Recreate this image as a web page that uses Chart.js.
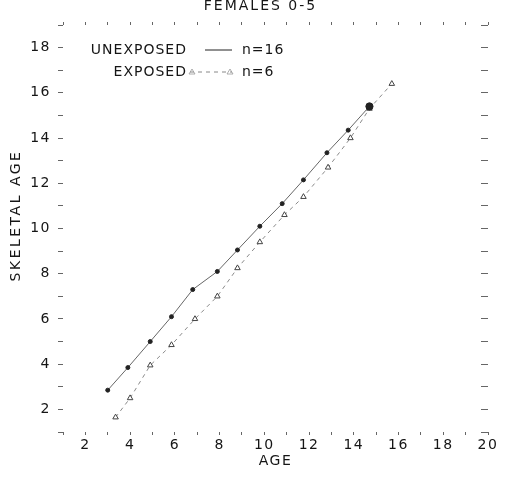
<!DOCTYPE html>
<html>
<head>
<meta charset="utf-8">
<script src="https://cdn.jsdelivr.net/npm/chart.js@4.4.1/dist/chart.umd.min.js"></script>
<style>
  html, body { margin: 0; padding: 0; background: #ffffff; }
  #wrap { width: 505px; height: 486px; }
</style>
</head>
<body>
<div id="wrap"><canvas id="c" width="505" height="486"></canvas></div>
<script>
// ---- data ----
const chartTitle = 'FEMALES 0-5';
const xAxisTitle = 'AGE';
const yAxisTitle = 'SKELETAL AGE';
const seriesNames = ['UNEXPOSED', 'EXPOSED'];
const sampleSizes = ['n=16', 'n=6'];

const unexposedAge      = [3.0, 3.9, 4.9, 5.85, 6.8, 7.9, 8.8, 9.8, 10.8, 11.75, 12.8, 13.75, 14.7];
const unexposedSkeletal = [2.85, 3.85, 5.0, 6.1, 7.3, 8.1, 9.05, 10.1, 11.1, 12.15, 13.35, 14.35, 15.4];

const exposedAge      = [3.35, 4.0, 4.9, 5.85, 6.9, 7.9, 8.8, 9.8, 10.9, 11.75, 12.85, 13.85, 14.7, 15.7];
const exposedSkeletal = [1.65, 2.5, 3.95, 4.85, 6.0, 7.0, 8.25, 9.4, 10.6, 11.4, 12.7, 14.0, 15.3, 16.4];

const xTickLabels = [2, 4, 6, 8, 10, 12, 14, 16, 18, 20];
const yTickLabels = [2, 4, 6, 8, 10, 12, 14, 16, 18];
const xRange = [1, 20];
const yRange = [1, 19];

// ---- build ----
const toPoints = (xs, ys) => xs.map((x, i) => ({ x: x, y: ys[i] }));
const FONT = "'DejaVu Sans', sans-serif";
const INK = '#151515';

const unexposedRadius = unexposedAge.map((_, i) => i === unexposedAge.length - 1 ? 3.6 : 2);

const spacingPlugin = {
  id: 'spacing',
  beforeDraw(chart) {
    chart.ctx.letterSpacing = '1.5px';
    const ys = chart.scales.y;
    if (ys && !ys._wrappedTitle) {
      const orig = ys.drawTitle.bind(ys);
      ys.drawTitle = function () {
        const c = this.ctx;
        c.save();
        c.letterSpacing = '2.5px';
        c.translate(0, -13);
        orig();
        c.restore();
      };
      ys._wrappedTitle = true;
    }
    const tb = chart.titleBlock;
    if (tb && !tb._wrapped) {
      const origT = tb.draw.bind(tb);
      tb.draw = function (a) {
        const c = this.ctx;
        c.save();
        c.letterSpacing = '2px';
        c.translate(8, 1);
        origT(a);
        c.restore();
      };
      tb._wrapped = true;
    }
  }
};

const legendPlugin = {
  id: 'textLegend',
  afterDraw(chart) {
    const ctx = chart.ctx;
    const ca = chart.chartArea;
    const rows = [ca.top + 25, ca.top + 47];
    const textRight = ca.left + 124;
    ctx.save();
    ctx.letterSpacing = '1px';
    ctx.font = '14px ' + FONT;
    ctx.fillStyle = INK;
    ctx.textBaseline = 'middle';
    chart.data.datasets.forEach((ds, i) => {
      const y = rows[i];
      ctx.textAlign = 'right';
      ctx.fillText(seriesNames[i], textRight, y);
      ctx.textAlign = 'left';
      ctx.fillText(sampleSizes[i], ca.left + 179, y);
      ctx.strokeStyle = i === 0 ? '#222' : '#888';
      ctx.lineWidth = 1;
      ctx.setLineDash(ds.borderDash || []);
      const x0 = i === 0 ? ca.left + 142 : ca.left + 127;
      const x1 = ca.left + 169;
      ctx.beginPath();
      ctx.moveTo(x0, y);
      ctx.lineTo(x1, y);
      ctx.stroke();
      ctx.setLineDash([]);
      if (i === 1) {
        [x0 + 2, x1 - 2].forEach(px => {
          ctx.beginPath();
          ctx.moveTo(px, y - 3);
          ctx.lineTo(px + 3, y + 2);
          ctx.lineTo(px - 3, y + 2);
          ctx.closePath();
          ctx.lineWidth = 0.8;
          ctx.strokeStyle = '#999';
          ctx.stroke();
        });
      }
    });
    ctx.restore();
  }
};

const tickGrid = (len) => ({
  display: true,
  drawOnChartArea: false,
  drawTicks: true,
  tickLength: len,
  color: '#666',
  lineWidth: 1
});

new Chart(document.getElementById('c'), {
  type: 'scatter',
  data: {
    datasets: [
      {
        label: seriesNames[0],
        data: toPoints(unexposedAge, unexposedSkeletal),
        showLine: true,
        borderColor: '#666',
        backgroundColor: '#111',
        borderWidth: 1,
        pointStyle: 'circle',
        pointRadius: unexposedRadius,
        pointBorderColor: '#222',
        pointBackgroundColor: '#222',
        pointBorderWidth: 1
      },
      {
        label: seriesNames[1],
        data: toPoints(exposedAge, exposedSkeletal),
        showLine: true,
        borderColor: '#8a8a8a',
        backgroundColor: '#ffffff',
        borderWidth: 1,
        borderDash: [4, 4],
        pointStyle: 'triangle',
        pointRadius: 3.2,
        pointBorderColor: '#444',
        pointBackgroundColor: '#ffffff',
        pointBorderWidth: 1
      }
    ]
  },
  options: {
    responsive: false,
    animation: false,
    devicePixelRatio: 1,
    layout: { padding: { left: 0, right: 0, top: 0, bottom: 0 } },
    plugins: {
      legend: { display: false },
      tooltip: { enabled: false },
      title: {
        display: true,
        text: chartTitle,
        color: INK,
        font: { family: FONT, size: 14, weight: 'normal', lineHeight: 1.2 },
        padding: { top: -3.5, bottom: 7 }
      }
    },
    scales: {
      x: {
        type: 'linear',
        position: 'bottom',
        min: xRange[0],
        max: xRange[1],
        grid: tickGrid(3),
        border: { display: false },
        ticks: {
          stepSize: 1,
          autoSkip: false,
          maxRotation: 0,
          padding: 2,
          color: INK,
          font: { family: FONT, size: 14 },
          callback: (v) => xTickLabels.includes(v) ? String(v) : ''
        },
        title: {
          display: true,
          text: xAxisTitle,
          color: INK,
          font: { family: FONT, size: 14, lineHeight: 1.2 },
          padding: { top: 0, bottom: 16 }
        },
        afterFit: (s) => { s.height = 54; }
      },
      x2: {
        type: 'linear',
        position: 'top',
        min: xRange[0],
        max: xRange[1],
        grid: tickGrid(3),
        border: { display: false },
        ticks: { display: false, stepSize: 1 },
        afterFit: (s) => { s.height = 4.7; }
      },
      y: {
        type: 'linear',
        position: 'left',
        min: yRange[0],
        max: yRange[1],
        grid: tickGrid(5),
        border: { display: false },
        ticks: {
          stepSize: 1,
          autoSkip: false,
          padding: 7,
          color: INK,
          font: { family: FONT, size: 14 },
          callback: (v) => yTickLabels.includes(v) ? String(v) : ''
        },
        title: {
          display: true,
          text: yAxisTitle,
          color: INK,
          font: { family: FONT, size: 14, lineHeight: 1.2 },
          padding: { top: 7.5, bottom: 0 }
        },
        afterFit: (s) => { s.width = 63; }
      },
      y2: {
        type: 'linear',
        position: 'right',
        min: yRange[0],
        max: yRange[1],
        grid: tickGrid(-7),
        border: { display: false },
        ticks: { display: false, stepSize: 1 },
        afterFit: (s) => { s.width = 17; }
      }
    }
  },
  plugins: [spacingPlugin, legendPlugin]
});
</script>
</body>
</html>
